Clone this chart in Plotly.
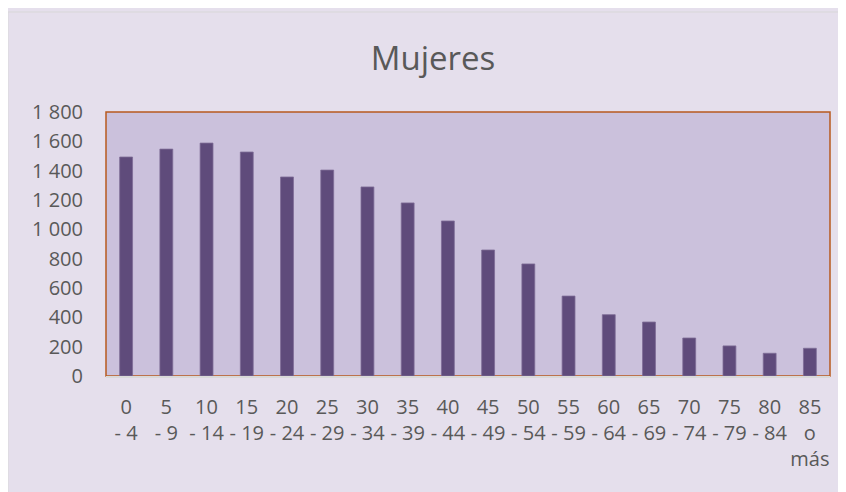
import plotly.graph_objects as go

# Data
age_groups = ["0<br>- 4", "5<br>- 9", "10<br>- 14", "15<br>- 19", "20<br>- 24", "25<br>- 29",
              "30<br>- 34", "35<br>- 39", "40<br>- 44", "45<br>- 49", "50<br>- 54", "55<br>- 59",
              "60<br>- 64", "65<br>- 69", "70<br>- 74", "75<br>- 79", "80<br>- 84", "85<br>o<br>más"]
women = [1493, 1547, 1588, 1527, 1357, 1404, 1289, 1180, 1057, 859, 764, 545,
         418, 368, 259, 205, 155, 189]
y_ticks = [0, 200, 400, 600, 800, 1000, 1200, 1400, 1600, 1800]

# Colors
BAR_COLOR = "#5F4B7B"
PLOT_BG = "#CBC1DC"
CHART_BG = "#E5DFEC"
BORDER_ORANGE = "#B85A1E"
TEXT_GRAY = "#595959"
FONT = "Open Sans"

# the page body adds an 8px offset, so the figure is 8px smaller than the window
fig = go.Figure()
fig.add_trace(go.Bar(
    x=age_groups, y=women,
    marker=dict(color=BAR_COLOR, line=dict(color="#7D6C96", width=0.8)),
))

# thin grey edge of the chart area (top + left), and the plot area with its orange frame
fig.add_shape(type="line", xref="paper", yref="paper", layer="below",
              x0=-98 / 724, x1=1.1, y0=1.3788, y1=1.3788, line=dict(color="#D9D9D9", width=1))
fig.add_shape(type="line", xref="paper", yref="paper", layer="below",
              x0=-98 / 724, x1=-98 / 724, y0=-0.5, y1=1.3788, line=dict(color="#D9D9D9", width=1))
fig.add_shape(type="rect", xref="paper", yref="paper", layer="below",
              x0=0, x1=1, y0=0, y1=1,
              fillcolor=PLOT_BG, line=dict(color=BORDER_ORANGE, width=1.5))

fig.update_layout(
    width=838, height=484,
    margin=dict(l=98, r=16, t=104, b=116),
    paper_bgcolor=CHART_BG,
    plot_bgcolor="rgba(0,0,0,0)",
    separators=", ",
    font=dict(family=FONT, color=TEXT_GRAY, size=20),
    title=dict(text="Mujeres", x=425 / 838, xanchor="center", y=1 - 50 / 484, yanchor="middle",
               font=dict(family=FONT, size=33, color=TEXT_GRAY)),
    bargap=0.68,
    showlegend=False,
)
fig.update_xaxes(showline=True, linecolor="#D9D9D9", linewidth=2, showgrid=False,
                 ticks="", ticklabelstandoff=12, tickfont=dict(size=20, color=TEXT_GRAY))
fig.update_yaxes(range=[0, 1800], tickvals=y_ticks, tickformat=",d", showgrid=False,
                 zeroline=False, showline=False, ticks="", ticklabelstandoff=22,
                 tickfont=dict(size=20, color=TEXT_GRAY))

fig.write_html("out.html")
